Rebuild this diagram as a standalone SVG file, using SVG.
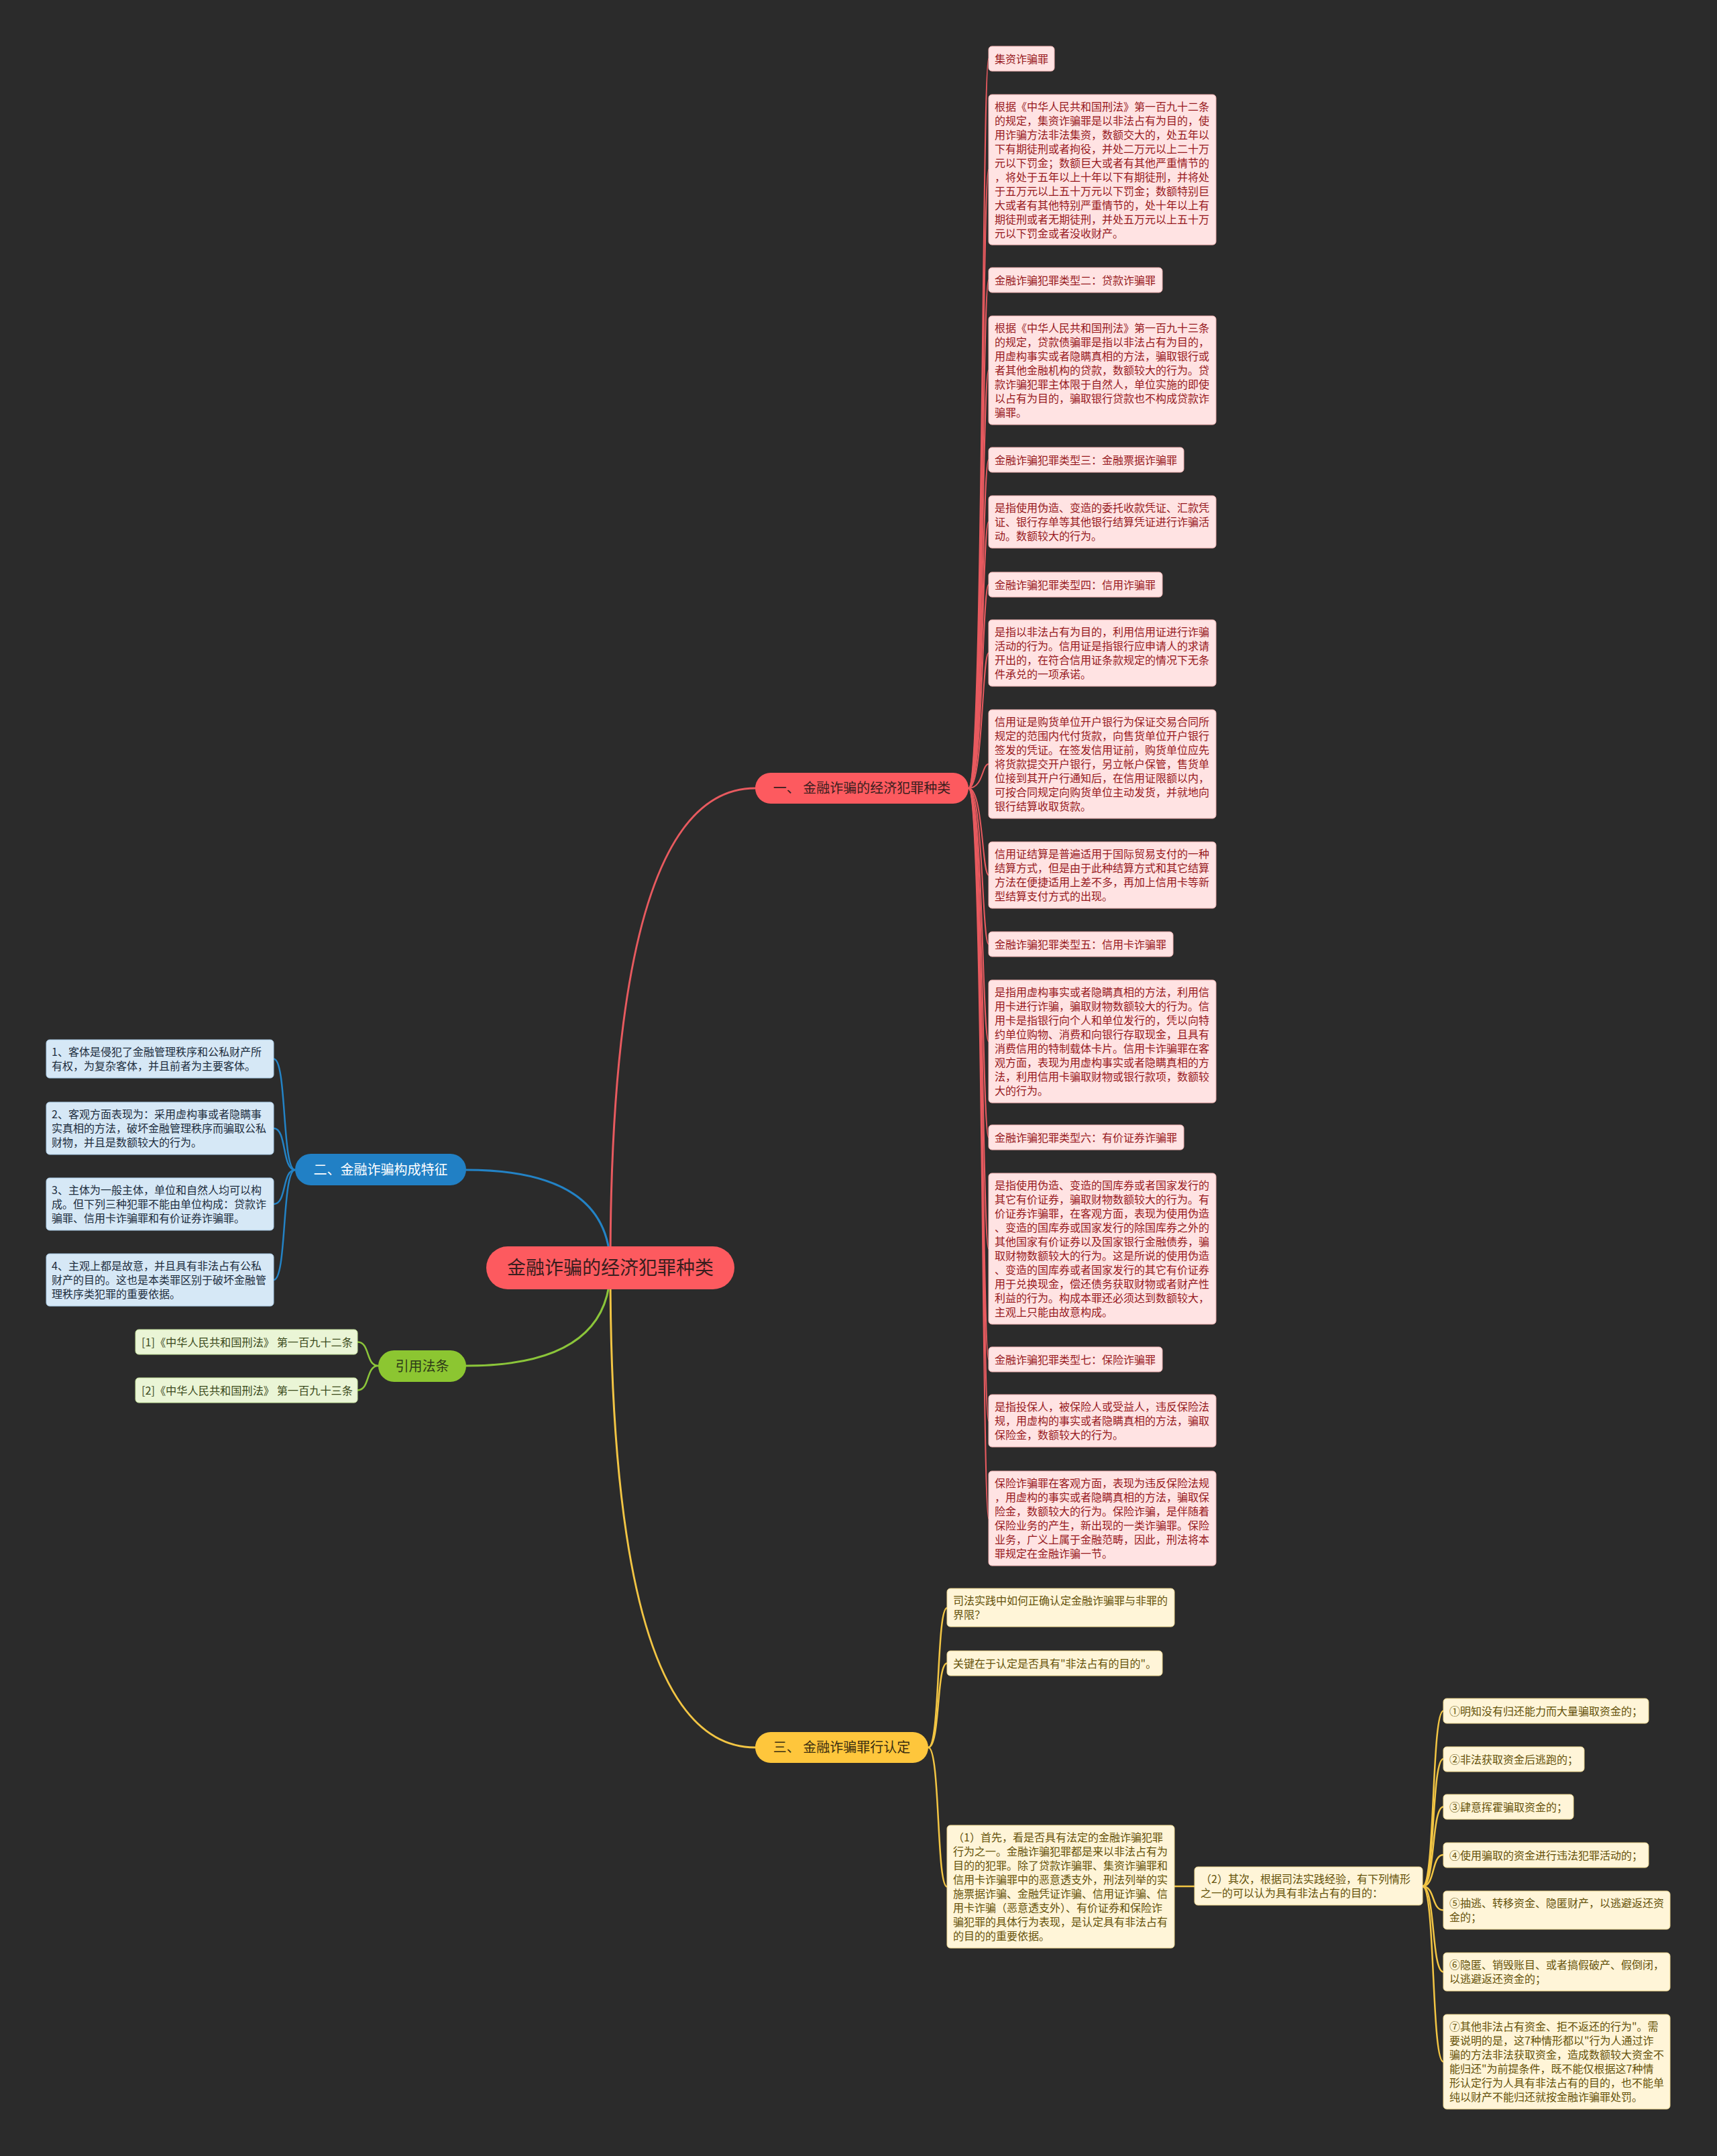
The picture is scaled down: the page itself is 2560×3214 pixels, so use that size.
<svg xmlns="http://www.w3.org/2000/svg" width="2560" height="3214" viewBox="0 0 2560 3214">
<style>
text{font-family:"Noto Sans CJK SC","Noto Sans",sans-serif;}
.pk rect{fill:#ffe3e3;stroke:#f3b3b3;stroke-width:1}
.pk text{fill:#97191d;font-size:16px}
.bl rect{fill:#d6e8f6;stroke:#a9cbe6;stroke-width:1}
.bl text{fill:#1d2d3d;font-size:16px}
.gr rect{fill:#eaf5d6;stroke:#c5e29c;stroke-width:1}
.gr text{fill:#3b4a1c;font-size:16px}
.yl rect{fill:#fff5d8;stroke:#f0d890;stroke-width:1}
.yl text{fill:#65520a;font-size:16px}
.br text{font-size:20px;text-anchor:middle}
.c-red{stroke:#e85a5f}
.c-blue{stroke:#2383c6}
.c-green{stroke:#8bc53a}
.c-yel{stroke:#f2c544}
</style>
<rect x="0" y="0" width="2560" height="3214" fill="#2b2b2b"/>

<g id="connectors" fill="none" stroke-linecap="round">
  <g stroke-width="3">
    <path class="c-red" d="M910,1890 Q910,1175 1126,1175"/>
    <path class="c-yel" d="M910,1890 Q910,2605 1126,2605"/>
    <path class="c-blue" d="M910,1890 Q910,1744 695,1744"/>
    <path class="c-green" d="M910,1890 Q910,2036 695,2036"/>
  </g>
  <g class="c-red" stroke-width="2">
    <path d="M1444,1175 C1466,1175 1464,87.5 1474,87.5"/>
    <path d="M1444,1175 C1466,1175 1464,253 1474,253"/>
    <path d="M1444,1175 C1466,1175 1464,417.5 1474,417.5"/>
    <path d="M1444,1175 C1466,1175 1464,552 1474,552"/>
    <path d="M1444,1175 C1466,1175 1464,685.5 1474,685.5"/>
    <path d="M1444,1175 C1466,1175 1464,778 1474,778"/>
    <path d="M1444,1175 C1466,1175 1464,871.5 1474,871.5"/>
    <path d="M1444,1175 C1466,1175 1464,973.5 1474,973.5"/>
    <path d="M1444,1175 C1466,1175 1464,1139 1474,1139"/>
    <path d="M1444,1175 C1466,1175 1464,1304.5 1474,1304.5"/>
    <path d="M1444,1175 C1466,1175 1464,1407.5 1474,1407.5"/>
    <path d="M1444,1175 C1466,1175 1464,1552.5 1474,1552.5"/>
    <path d="M1444,1175 C1466,1175 1464,1695.5 1474,1695.5"/>
    <path d="M1444,1175 C1466,1175 1464,1861.5 1474,1861.5"/>
    <path d="M1444,1175 C1466,1175 1464,2026.5 1474,2026.5"/>
    <path d="M1444,1175 C1466,1175 1464,2118 1474,2118"/>
    <path d="M1444,1175 C1466,1175 1464,2263.5 1474,2263.5"/>
  </g>
  <g class="c-blue" stroke-width="2.5">
    <path d="M440,1744 C420,1744 428,1578.5 408,1578.5"/>
    <path d="M440,1744 C420,1744 428,1682 408,1682"/>
    <path d="M440,1744 C420,1744 428,1795 408,1795"/>
    <path d="M440,1744 C420,1744 428,1908 408,1908"/>
  </g>
  <g class="c-green" stroke-width="2.5">
    <path d="M564,2036 C545,2036 552,2000.5 533,2000.5"/>
    <path d="M564,2036 C545,2036 552,2072.5 533,2072.5"/>
  </g>
  <g class="c-yel" stroke-width="2.5">
    <path d="M1384,2605 C1402,2605 1396,2397 1412,2397"/>
    <path d="M1384,2605 C1402,2605 1396,2479.5 1412,2479.5"/>
    <path d="M1384,2605 C1402,2605 1396,2812.5 1412,2812.5"/>
    <path d="M1751,2812 L1781,2812"/>
    <path d="M2121,2812 C2140,2812 2134,2550.5 2152,2550.5"/>
    <path d="M2121,2812 C2140,2812 2134,2622 2152,2622"/>
    <path d="M2121,2812 C2140,2812 2134,2693.5 2152,2693.5"/>
    <path d="M2121,2812 C2140,2812 2134,2765 2152,2765"/>
    <path d="M2121,2812 C2140,2812 2134,2847.5 2152,2847.5"/>
    <path d="M2121,2812 C2140,2812 2134,2939.5 2152,2939.5"/>
    <path d="M2121,2812 C2140,2812 2134,3073.5 2152,3073.5"/>
  </g>
</g>

<g id="root">
  <rect x="725" y="1858" width="370" height="64" rx="32" fill="#fd5a5f"/>
  <text x="910" y="1900" font-size="28" text-anchor="middle" fill="#3a1e1e">金融诈骗的经济犯罪种类</text>
</g>

<g class="br">
  <g id="branch1">
    <rect x="1126" y="1152" width="318" height="46" rx="23" fill="#fd5a5f"/>
    <text x="1285" y="1182" fill="#3a1e1e">一、 金融诈骗的经济犯罪种类</text>
  </g>
  <g id="branch2">
    <rect x="440" y="1720" width="255" height="47" rx="23.5" fill="#2180c5"/>
    <text x="567.5" y="1751" fill="#ffffff">二、金融诈骗构成特征</text>
  </g>
  <g id="branch3">
    <rect x="1126" y="2582" width="258" height="46" rx="23" fill="#fec63c"/>
    <text x="1255" y="2612" fill="#3a2e10">三、 金融诈骗罪行认定</text>
  </g>
  <g id="branch4">
    <rect x="564" y="2013" width="131" height="47" rx="23.5" fill="#8cc631"/>
    <text x="629.5" y="2043.5" fill="#2e3a18">引用法条</text>
  </g>
</g>

<g class="pk">
  <g id="p1"><rect x="1474" y="69" width="98" height="37" rx="5"/>
    <text x="1483" y="93.5">集资诈骗罪</text></g>
  <g id="p2"><rect x="1474" y="141" width="339" height="224" rx="5"/>
    <text x="1483" y="165"><tspan x="1483">根据《中华人民共和国刑法》第一百九十二条</tspan><tspan x="1483" dy="21">的规定，集资诈骗罪是以非法占有为目的，使</tspan><tspan x="1483" dy="21">用诈骗方法非法集资，数额交大的，处五年以</tspan><tspan x="1483" dy="21">下有期徒刑或者拘役，并处二万元以上二十万</tspan><tspan x="1483" dy="21">元以下罚金；数额巨大或者有其他严重情节的</tspan><tspan x="1483" dy="21">，将处于五年以上十年以下有期徒刑，并将处</tspan><tspan x="1483" dy="21">于五万元以上五十万元以下罚金；数额特别巨</tspan><tspan x="1483" dy="21">大或者有其他特别严重情节的，处十年以上有</tspan><tspan x="1483" dy="21">期徒刑或者无期徒刑，并处五万元以上五十万</tspan><tspan x="1483" dy="21">元以下罚金或者没收财产。</tspan></text></g>
  <g id="p3"><rect x="1474" y="399" width="259" height="37" rx="5"/>
    <text x="1483" y="423.5">金融诈骗犯罪类型二：贷款诈骗罪</text></g>
  <g id="p4"><rect x="1474" y="471" width="339" height="162" rx="5"/>
    <text x="1483" y="495"><tspan x="1483">根据《中华人民共和国刑法》第一百九十三条</tspan><tspan x="1483" dy="21">的规定，贷款债骗罪是指以非法占有为目的，</tspan><tspan x="1483" dy="21">用虚构事实或者隐瞒真相的方法，骗取银行或</tspan><tspan x="1483" dy="21">者其他金融机构的贷款，数额较大的行为。贷</tspan><tspan x="1483" dy="21">款诈骗犯罪主体限于自然人，单位实施的即使</tspan><tspan x="1483" dy="21">以占有为目的，骗取银行贷款也不构成贷款诈</tspan><tspan x="1483" dy="21">骗罪。</tspan></text></g>
  <g id="p5"><rect x="1474" y="667" width="291" height="37" rx="5"/>
    <text x="1483" y="691.5">金融诈骗犯罪类型三：金融票据诈骗罪</text></g>
  <g id="p6"><rect x="1474" y="739" width="339" height="78" rx="5"/>
    <text x="1483" y="763"><tspan x="1483">是指使用伪造、变造的委托收款凭证、汇款凭</tspan><tspan x="1483" dy="21">证、银行存单等其他银行结算凭证进行诈骗活</tspan><tspan x="1483" dy="21">动。数额较大的行为。</tspan></text></g>
  <g id="p7"><rect x="1474" y="853" width="259" height="37" rx="5"/>
    <text x="1483" y="877.5">金融诈骗犯罪类型四：信用诈骗罪</text></g>
  <g id="p8"><rect x="1474" y="924" width="339" height="99" rx="5"/>
    <text x="1483" y="948"><tspan x="1483">是指以非法占有为目的，利用信用证进行诈骗</tspan><tspan x="1483" dy="21">活动的行为。信用证是指银行应申请人的求请</tspan><tspan x="1483" dy="21">开出的，在符合信用证条款规定的情况下无条</tspan><tspan x="1483" dy="21">件承兑的一项承诺。</tspan></text></g>
  <g id="p9"><rect x="1474" y="1058" width="339" height="162" rx="5"/>
    <text x="1483" y="1082"><tspan x="1483">信用证是购货单位开户银行为保证交易合同所</tspan><tspan x="1483" dy="21">规定的范围内代付货款，向售货单位开户银行</tspan><tspan x="1483" dy="21">签发的凭证。在签发信用证前，购货单位应先</tspan><tspan x="1483" dy="21">将货款提交开户银行，另立帐户保管，售货单</tspan><tspan x="1483" dy="21">位接到其开户行通知后，在信用证限额以内，</tspan><tspan x="1483" dy="21">可按合同规定向购货单位主动发货，并就地向</tspan><tspan x="1483" dy="21">银行结算收取货款。</tspan></text></g>
  <g id="p10"><rect x="1474" y="1255" width="339" height="99" rx="5"/>
    <text x="1483" y="1279"><tspan x="1483">信用证结算是普遍适用于国际贸易支付的一种</tspan><tspan x="1483" dy="21">结算方式，但是由于此种结算方式和其它结算</tspan><tspan x="1483" dy="21">方法在便捷适用上差不多，再加上信用卡等新</tspan><tspan x="1483" dy="21">型结算支付方式的出现。</tspan></text></g>
  <g id="p11"><rect x="1474" y="1389" width="275" height="37" rx="5"/>
    <text x="1483" y="1413.5">金融诈骗犯罪类型五：信用卡诈骗罪</text></g>
  <g id="p12"><rect x="1474" y="1461" width="339" height="183" rx="5"/>
    <text x="1483" y="1485"><tspan x="1483">是指用虚构事实或者隐瞒真相的方法，利用信</tspan><tspan x="1483" dy="21">用卡进行诈骗，骗取财物数额较大的行为。信</tspan><tspan x="1483" dy="21">用卡是指银行向个人和单位发行的，凭以向特</tspan><tspan x="1483" dy="21">约单位购物、消费和向银行存取现金，且具有</tspan><tspan x="1483" dy="21">消费信用的特制载体卡片。信用卡诈骗罪在客</tspan><tspan x="1483" dy="21">观方面，表现为用虚构事实或者隐瞒真相的方</tspan><tspan x="1483" dy="21">法，利用信用卡骗取财物或银行款项，数额较</tspan><tspan x="1483" dy="21">大的行为。</tspan></text></g>
  <g id="p13"><rect x="1474" y="1677" width="291" height="37" rx="5"/>
    <text x="1483" y="1701.5">金融诈骗犯罪类型六：有价证券诈骗罪</text></g>
  <g id="p14"><rect x="1474" y="1749" width="339" height="225" rx="5"/>
    <text x="1483" y="1773"><tspan x="1483">是指使用伪造、变造的国库券或者国家发行的</tspan><tspan x="1483" dy="21">其它有价证券，骗取财物数额较大的行为。有</tspan><tspan x="1483" dy="21">价证券诈骗罪，在客观方面，表现为使用伪造</tspan><tspan x="1483" dy="21">、变造的国库券或国家发行的除国库券之外的</tspan><tspan x="1483" dy="21">其他国家有价证券以及国家银行金融债券，骗</tspan><tspan x="1483" dy="21">取财物数额较大的行为。这是所说的使用伪造</tspan><tspan x="1483" dy="21">、变造的国库券或者国家发行的其它有价证券</tspan><tspan x="1483" dy="21">用于兑换现金，偿还债务获取财物或者财产性</tspan><tspan x="1483" dy="21">利益的行为。构成本罪还必须达到数额较大，</tspan><tspan x="1483" dy="21">主观上只能由故意构成。</tspan></text></g>
  <g id="p15"><rect x="1474" y="2008" width="259" height="37" rx="5"/>
    <text x="1483" y="2032.5">金融诈骗犯罪类型七：保险诈骗罪</text></g>
  <g id="p16"><rect x="1474" y="2079" width="339" height="78" rx="5"/>
    <text x="1483" y="2103"><tspan x="1483">是指投保人，被保险人或受益人，违反保险法</tspan><tspan x="1483" dy="21">规，用虚构的事实或者隐瞒真相的方法，骗取</tspan><tspan x="1483" dy="21">保险金，数额较大的行为。</tspan></text></g>
  <g id="p17"><rect x="1474" y="2193" width="339" height="141" rx="5"/>
    <text x="1483" y="2217"><tspan x="1483">保险诈骗罪在客观方面，表现为违反保险法规</tspan><tspan x="1483" dy="21">，用虚构的事实或者隐瞒真相的方法，骗取保</tspan><tspan x="1483" dy="21">险金，数额较大的行为。保险诈骗，是伴随着</tspan><tspan x="1483" dy="21">保险业务的产生，新出现的一类诈骗罪。保险</tspan><tspan x="1483" dy="21">业务，广义上属于金融范畴，因此，刑法将本</tspan><tspan x="1483" dy="21">罪规定在金融诈骗一节。</tspan></text></g>
</g>

<g class="bl">
  <g id="b1"><rect x="69" y="1550" width="339" height="57" rx="5"/>
    <text x="77" y="1574"><tspan x="77">1、客体是侵犯了金融管理秩序和公私财产所</tspan><tspan x="77" dy="21">有权，为复杂客体，并且前者为主要客体。</tspan></text></g>
  <g id="b2"><rect x="69" y="1643" width="339" height="78" rx="5"/>
    <text x="77" y="1667"><tspan x="77">2、客观方面表现为：采用虚构事或者隐瞒事</tspan><tspan x="77" dy="21">实真相的方法，破坏金融管理秩序而骗取公私</tspan><tspan x="77" dy="21">财物，并且是数额较大的行为。</tspan></text></g>
  <g id="b3"><rect x="69" y="1756" width="339" height="78" rx="5"/>
    <text x="77" y="1780"><tspan x="77">3、主体为一般主体，单位和自然人均可以构</tspan><tspan x="77" dy="21">成。但下列三种犯罪不能由单位构成：贷款诈</tspan><tspan x="77" dy="21">骗罪、信用卡诈骗罪和有价证券诈骗罪。</tspan></text></g>
  <g id="b4"><rect x="69" y="1869" width="339" height="78" rx="5"/>
    <text x="77" y="1893"><tspan x="77">4、主观上都是故意，并且具有非法占有公私</tspan><tspan x="77" dy="21">财产的目的。这也是本类罪区别于破坏金融管</tspan><tspan x="77" dy="21">理秩序类犯罪的重要依据。</tspan></text></g>
</g>

<g class="gr">
  <g id="g1"><rect x="202" y="1982" width="331" height="37" rx="5"/>
    <text x="211" y="2006.5" textLength="315" lengthAdjust="spacingAndGlyphs">[1]《中华人民共和国刑法》 第一百九十二条</text></g>
  <g id="g2"><rect x="202" y="2054" width="331" height="37" rx="5"/>
    <text x="211" y="2078.5" textLength="315" lengthAdjust="spacingAndGlyphs">[2]《中华人民共和国刑法》 第一百九十三条</text></g>
</g>

<g class="yl">
  <g id="y1"><rect x="1412" y="2368" width="339" height="57" rx="5"/>
    <text x="1421" y="2392"><tspan x="1421">司法实践中如何正确认定金融诈骗罪与非罪的</tspan><tspan x="1421" dy="21">界限？</tspan></text></g>
  <g id="y2"><rect x="1412" y="2461" width="321" height="37" rx="5"/>
    <text x="1421" y="2485.5">关键在于认定是否具有"非法占有的目的"。</text></g>
  <g id="y3"><rect x="1412" y="2721" width="339" height="183" rx="5"/>
    <text x="1421" y="2745"><tspan x="1421">（1）首先，看是否具有法定的金融诈骗犯罪</tspan><tspan x="1421" dy="21">行为之一。金融诈骗犯罪都是来以非法占有为</tspan><tspan x="1421" dy="21">目的的犯罪。除了贷款诈骗罪、集资诈骗罪和</tspan><tspan x="1421" dy="21">信用卡诈骗罪中的恶意透支外，刑法列举的实</tspan><tspan x="1421" dy="21">施票据诈骗、金融凭证诈骗、信用证诈骗、信</tspan><tspan x="1421" dy="21">用卡诈骗（恶意透支外）、有价证券和保险诈</tspan><tspan x="1421" dy="21">骗犯罪的具体行为表现，是认定具有非法占有</tspan><tspan x="1421" dy="21">的目的的重要依据。</tspan></text></g>
  <g id="y4"><rect x="1781" y="2783" width="340" height="57" rx="5"/>
    <text x="1790" y="2807"><tspan x="1790">（2）其次，根据司法实践经验，有下列情形</tspan><tspan x="1790" dy="21">之一的可以认为具有非法占有的目的：</tspan></text></g>
  <g id="y5"><rect x="2152" y="2532" width="306" height="37" rx="5"/>
    <text x="2161" y="2556.5">①明知没有归还能力而大量骗取资金的；</text></g>
  <g id="y6"><rect x="2152" y="2604" width="210" height="37" rx="5"/>
    <text x="2161" y="2628.5">②非法获取资金后逃跑的；</text></g>
  <g id="y7"><rect x="2152" y="2675" width="194" height="37" rx="5"/>
    <text x="2161" y="2699.5">③肆意挥霍骗取资金的；</text></g>
  <g id="y8"><rect x="2152" y="2747" width="306" height="37" rx="5"/>
    <text x="2161" y="2771.5">④使用骗取的资金进行违法犯罪活动的；</text></g>
  <g id="y9"><rect x="2152" y="2819" width="338" height="57" rx="5"/>
    <text x="2161" y="2843"><tspan x="2161">⑤抽逃、转移资金、隐匿财产，以逃避返还资</tspan><tspan x="2161" dy="21">金的；</tspan></text></g>
  <g id="y10"><rect x="2152" y="2911" width="338" height="57" rx="5"/>
    <text x="2161" y="2935"><tspan x="2161">⑥隐匿、销毁账目、或者搞假破产、假倒闭，</tspan><tspan x="2161" dy="21">以逃避返还资金的；</tspan></text></g>
  <g id="y11"><rect x="2152" y="3003" width="338" height="141" rx="5"/>
    <text x="2161" y="3027"><tspan x="2161">⑦其他非法占有资金、拒不返还的行为"。需</tspan><tspan x="2161" dy="21">要说明的是，这7种情形都以"行为人通过诈</tspan><tspan x="2161" dy="21">骗的方法非法获取资金，造成数额较大资金不</tspan><tspan x="2161" dy="21">能归还"为前提条件，既不能仅根据这7种情</tspan><tspan x="2161" dy="21">形认定行为人具有非法占有的目的，也不能单</tspan><tspan x="2161" dy="21">纯以财产不能归还就按金融诈骗罪处罚。</tspan></text></g>
</g>
</svg>
